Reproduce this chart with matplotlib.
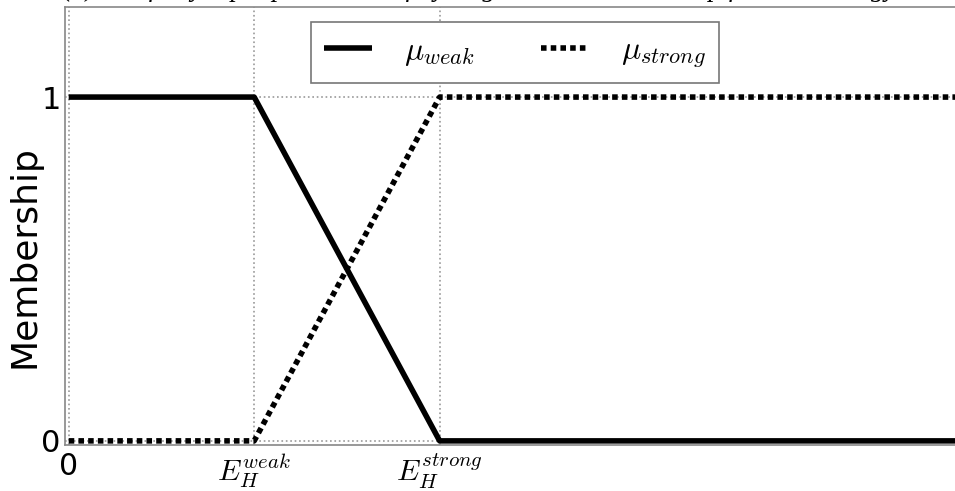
import matplotlib
matplotlib.use("Agg")
import matplotlib.pyplot as plt

plt.rcParams['mathtext.fontset'] = 'cm'
plt.rcParams['font.family'] = ['DejaVu Sans']

# Data
x_points = [0, 1, 2, 5]
mu_weak = [1, 1, 0, 0]
mu_strong = [0, 0, 1, 1]
xtick_pos = [0, 1, 2]
xtick_labels = ["0", r"$E_H^{weak}$", r"$E_H^{strong}$"]
ytick_pos = [0, 1]
ytick_labels = ["0", "1"]
title_text = "(a) The fuzzy input parameter of hydrogen bond membership for total energy"

fig = plt.figure(figsize=(9.55, 4.91), dpi=100)
ax = fig.add_axes([65/955, 46/491, 1 - 65/955 + 0.01, (445 - 7)/491])

ax.plot(x_points, mu_weak, color='black', lw=4, solid_capstyle='butt',
        label=r"$\mu_{weak}$", zorder=3)
ax.plot(x_points, mu_strong, color='black', lw=4, linestyle=(0, (1, 0.75)),
        label=r"$\mu_{strong}$", zorder=3)

ax.set_xlim(-0.02, 4.83)
ax.set_ylim(-0.012, 1.262)
ax.set_xticks(xtick_pos)
ax.set_xticklabels(xtick_labels, fontsize=21.5)
ax.set_yticks(ytick_pos)
ax.set_yticklabels(ytick_labels, fontsize=22)
ax.tick_params(axis='both', length=0)
ax.tick_params(axis='x', pad=5)
ax.tick_params(axis='y', pad=3)
ax.set_ylabel("Membership", fontsize=26)
ax.yaxis.set_label_coords(-0.026, 0.431)

ax.grid(True, linestyle=':', color='#999999', lw=1.2)
for sp in ax.spines.values():
    sp.set_color('#888888')
    sp.set_linewidth(1.2)

leg = ax.legend(loc='upper center', ncol=2, fontsize=23,
                fancybox=False, edgecolor='#777777', framealpha=1,
                handlelength=1.5, columnspacing=2.1, handletextpad=1.0,
                borderpad=0.4, borderaxespad=0)
leg.set_bbox_to_anchor((515/955, 1 - 22/491), transform=fig.transFigure)
leg.get_frame().set_linewidth(1.2)

fig.text(480/955, 1.0 + 3.5/491, title_text, ha='center', va='baseline',
         fontsize=19.5, family='Liberation Serif', style='italic')

fig.savefig("out.png", dpi=100)
